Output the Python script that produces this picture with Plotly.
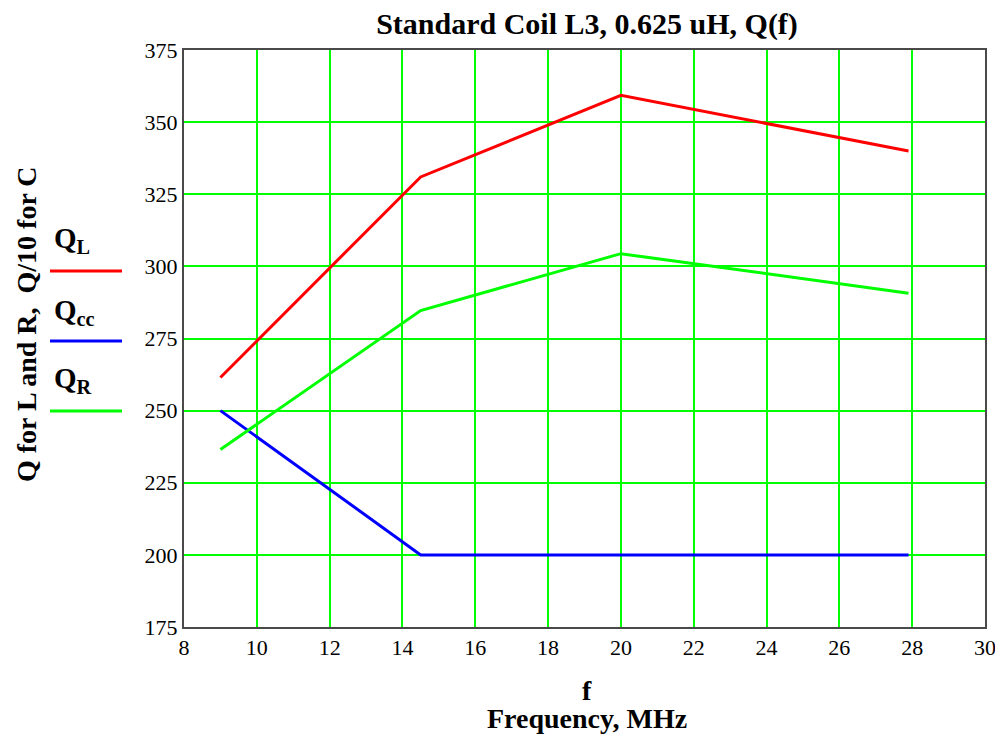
import plotly.graph_objects as go

f_mhz = [9.0, 14.5, 20.0, 27.9]
q_l = [261.5, 331.0, 359.3, 340.0]
q_cc = [250.0, 200.0, 200.0, 200.0]
q_r = [236.5, 284.7, 304.4, 290.7]

x_ticks = list(range(8, 31, 2))
y_ticks = list(range(175, 376, 25))

FONT = "Liberation Serif"

# page body has an 8px margin, so the figure is drawn 8px in from the top-left
OFF = 8
W, H = 1003 - OFF, 735 - OFF
PL, PR, PT, PB = 184, 985, 50, 627  # plot-area edges in window pixels
PW, PH = PR - PL, PB - PT


def px_x(x):
    return (x - PL) / PW


def px_y(y):
    return (PB - y) / PH


fig = go.Figure()
fig.add_trace(go.Scatter(x=f_mhz, y=q_l, mode="lines", line=dict(color="#ff0000", width=3), name="QL"))
fig.add_trace(go.Scatter(x=f_mhz, y=q_cc, mode="lines", line=dict(color="#0000ff", width=3), name="Qcc"))
fig.add_trace(go.Scatter(x=f_mhz, y=q_r, mode="lines", line=dict(color="#00ff00", width=3), name="QR"))

fig.update_layout(
    width=W, height=H,
    margin=dict(l=PL - OFF, r=1003 - PR, t=PT - OFF, b=735 - PB, pad=0, autoexpand=False),
    paper_bgcolor="white", plot_bgcolor="white",
    showlegend=False,
    font=dict(family=FONT, size=22, color="black"),
    title=dict(text="<b>Standard Coil L3, 0.625 uH, Q(f)</b>", x=(587 - OFF) / W, xanchor="center",
               y=1 - (23 - OFF) / H, yanchor="middle", font=dict(family=FONT, size=30, color="black")),
)
axis_common = dict(showgrid=True, gridcolor="#00ff00", gridwidth=2, zeroline=False,
                   showline=True, linecolor="#4a4a4a", linewidth=2, mirror=True,
                   ticks="", ticklen=0, automargin=False,
                   tickfont=dict(family=FONT, size=22, color="black"))
fig.update_xaxes(range=[8, 30], tickvals=x_ticks, ticktext=[str(v) for v in x_ticks], **axis_common)
fig.update_yaxes(range=[175, 375], tickvals=y_ticks, ticktext=[str(v) for v in y_ticks], **axis_common)

# x-axis title lines
fig.add_annotation(text="<b>f</b>", xref="paper", yref="paper", x=px_x(587), y=px_y(690),
                   showarrow=False, yanchor="middle", font=dict(family=FONT, size=28, color="black"))
fig.add_annotation(text="<b>Frequency, MHz</b>", xref="paper", yref="paper", x=px_x(587), y=px_y(718),
                   showarrow=False, yanchor="middle", font=dict(family=FONT, size=28, color="black"))
# y-axis title
fig.add_annotation(text="<b>Q for L and R,  Q/10 for C</b>", xref="paper", yref="paper",
                   x=px_x(26), y=px_y(324), textangle=-90, showarrow=False,
                   xanchor="center", yanchor="middle", font=dict(family=FONT, size=28, color="black"))

# custom legend
legend_items = [("Q<sub>L</sub>", "#ff0000", 240, 271),
                ("Q<sub>cc</sub>", "#0000ff", 312, 341),
                ("Q<sub>R</sub>", "#00ff00", 380, 411)]
for label, color, ty, ly in legend_items:
    fig.add_annotation(text="<b>" + label + "</b>", xref="paper", yref="paper",
                       x=px_x(52), y=px_y(ty), xanchor="left", yanchor="middle",
                       showarrow=False, font=dict(family=FONT, size=29, color="black"))
    fig.add_shape(type="line", xref="paper", yref="paper",
                  x0=px_x(50), x1=px_x(122), y0=px_y(ly), y1=px_y(ly),
                  line=dict(color=color, width=3))

fig.write_html("out.html")
